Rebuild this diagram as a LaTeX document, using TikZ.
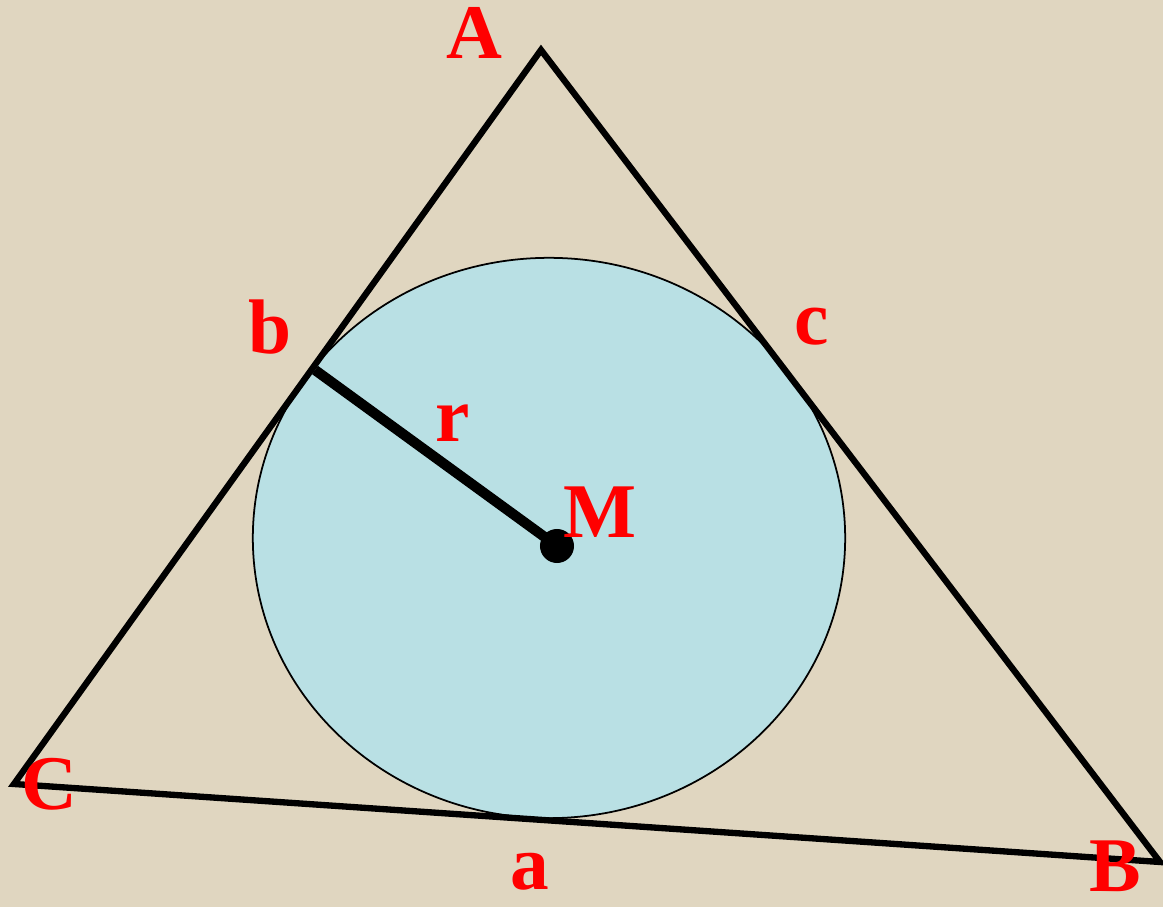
\documentclass[tikz,border=0pt]{standalone}
\usepackage{fontspec}
\setmainfont{Liberation Serif}
\usepackage{tikz}
\usetikzlibrary{positioning, calc}
\definecolor{paperbeige}{RGB}{224, 214, 192}
\definecolor{circleblue}{RGB}{185, 224, 228}
\definecolor{labelred}{RGB}{255, 0, 0}
\tikzset{
  side/.style={line width=1.8pt, draw=black, line join=miter},
  incircle/.style={draw=black, line width=0.5pt, fill=circleblue},
  radius/.style={line width=2.9pt, draw=black},
  lbl/.style={font=\fontsize{22}{24}\selectfont\bfseries, text=labelred, inner sep=0pt},
}
\begin{document}
\begin{tikzpicture}[x=0.01cm, y=-0.01cm]
  % background
  \fill[paperbeige] (0,0) rectangle (1163,907);
  \useasboundingbox (0,0) rectangle (1163,907);

  \coordinate (A) at (541,50);
  \coordinate (B) at (1160,862);
  \coordinate (C) at (14,784);
  \coordinate (M) at (557,546);
  \coordinate (T) at (315,370);

  \path[incircle] (549,538) ellipse [x radius=2.96cm, y radius=2.80cm];
  \draw[radius] (T) -- (M);
  \fill (M) circle (0.17cm);
  \draw[side] (A) -- (B) -- (C) -- cycle;

  \node[lbl] (lA) at (474,33) {A};
  \node[lbl] (lB) at (1115,866) {B};
  \node[lbl] (lC) at (49,784) {C};
  \node[lbl] (la) at (530,872) {a};
  \node[lbl] (lb) at (270,327) {b};
  \node[lbl] (lc) at (812,327) {c};
  \node[lbl] (lr) at (453,423) {r};
  \node[lbl] (lM) at (600,512) {M};
\end{tikzpicture}
\end{document}
